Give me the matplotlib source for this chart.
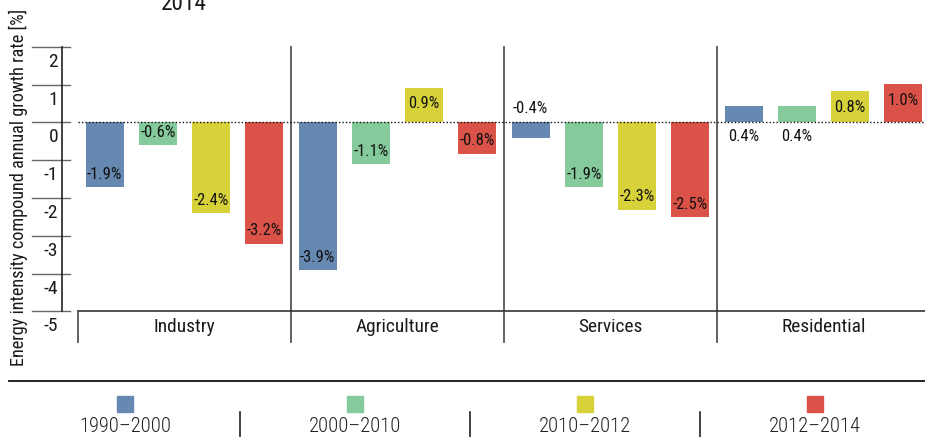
import matplotlib
matplotlib.use("Agg")
import matplotlib.pyplot as plt
from matplotlib import font_manager
from matplotlib.patches import Rectangle
from matplotlib.transforms import offset_copy

# ---------------- data ----------------
categories = ["Industry", "Agriculture", "Services", "Residential"]
periods = ["1990\u20132000", "2000\u20132010", "2010\u20132012", "2012\u20132014"]
colors = ["#6788b0", "#84ca9a", "#d8d23a", "#db5248"]

# bar heights as drawn (percent)
h_1990_2000 = [-1.72, -3.92, -0.42, 0.42]
h_2000_2010 = [-0.61, -1.11, -1.72, 0.42]
h_2010_2012 = [-2.41, 0.92, -2.31, 0.82]
h_2012_2014 = [-3.21, -0.83, -2.51, 1.01]

# printed labels
l_1990_2000 = ["-1.9%", "-3.9%", "-0.4%", "0.4%"]
l_2000_2010 = ["-0.6%", "-1.1%", "-1.9%", "0.4%"]
l_2010_2012 = ["-2.4%", "0.9%", "-2.3%", "0.8%"]
l_2012_2014 = ["-3.2%", "-0.8%", "-2.5%", "1.0%"]

heights = [h_1990_2000, h_2000_2010, h_2010_2012, h_2012_2014]
labels = [l_1990_2000, l_2000_2010, l_2010_2012, l_2012_2014]

yticks = [2, 1, 0, -1, -2, -3, -4, -5]
ylabel = "Energy intensity compound annual growth rate [%]"
title_tail = "2014"

# ---------------- font choice ----------------
entries = font_manager.fontManager.ttflist
names = {f.name for f in entries}
family = None
stretch = "normal"
for cand in ["Liberation Sans Narrow", "DejaVu Sans Condensed", "Roboto Condensed",
             "Open Sans Condensed", "Noto Sans Condensed", "Arial Narrow"]:
    if cand in names:
        family = cand
        break
if family is None:
    for f in entries:
        st = str(f.stretch).lower()
        if st in ("condensed", "semi-condensed", "extra-condensed") or st in ("75", "87.5", "62.5"):
            if f.name in ("DejaVu Sans", "Noto Sans", "Open Sans", "Roboto", "Liberation Sans"):
                family = f.name
                stretch = "condensed"
                break
if family is None:
    family = "Roboto" if "Roboto" in names else "DejaVu Sans"

plt.rcParams["font.family"] = [family, "DejaVu Sans"]
plt.rcParams["font.stretch"] = stretch

W, H = 925, 437
fig = plt.figure(figsize=(W / 100, H / 100), dpi=100)
renderer = fig.canvas.get_renderer()

def fit(text, target_px, max_size, **kw):
    t = fig.text(0, 0, text, fontsize=max_size, **kw)
    w = t.get_window_extent(renderer).width
    t.remove()
    return min(max_size, max_size * target_px / w)

def fx(px):
    return px / W

def fy(px_from_top):
    return 1 - px_from_top / H

fs_bar = fit("-2.4%", 35, 13)
fs_cat = fit("Industry", 62, 15)
fs_tick = 14
fs_ylab = fit(ylabel, 360, 14)
fs_leg = fit(periods[0], 92, 16, fontweight="light")
fs_title = fit(title_tail, 46, 18)

top_px, bot_px = 46.7, 311.3
ax = fig.add_axes([fx(78), fy(bot_px), fx(930 - 78), (bot_px - top_px) / H])
ax.set_xlim(0, 4)
ax.set_ylim(-5, 2)
ax.axis("off")

bar_w = 0.178
for j, (hs, ls, c) in enumerate(zip(heights, labels, colors)):
    xs = [i + 0.125 + 0.25 * j for i in range(len(categories))]
    ax.bar(xs, hs, width=bar_w, color=c, zorder=2)
    for x, v, lab in zip(xs, hs, ls):
        if abs(v) < 0.5:
            base, dy = 0, (14 if v < 0 else -14)
        else:
            base, dy = v, (13 if v < 0 else -16)
        tr = offset_copy(ax.transData, fig=fig, x=0, y=dy, units="dots")
        ax.text(x, base, lab, transform=tr, ha="center", va="center",
                fontsize=fs_bar, color="#111111", zorder=3, clip_on=False)

# zero dotted line
ax.plot([0, 4], [0, 0], color="#111111", lw=1.0, ls=(0, (1, 1.5)), zorder=3,
        clip_on=False)
# baseline at -5
ax.plot([0, 4], [-5, -5], color="#333333", lw=1.2, clip_on=False)
# category separators
sep_bottom = -5 - 31 / 37.8
for i in [1, 2, 3]:
    ax.plot([i, i], [2, sep_bottom], color="#555555", lw=1.3, clip_on=False, zorder=1)
ax.plot([0, 0], [-5, sep_bottom], color="#555555", lw=1.3, clip_on=False)
# category labels
for i, cat in enumerate(categories):
    tr = offset_copy(ax.transData, fig=fig, x=0, y=-16, units="dots")
    ax.text(i + 0.5, -5, cat, transform=tr, ha="center", va="center",
            fontsize=fs_cat, color="#1a1a1a", clip_on=False)

# ---------------- y axis ----------------
axy = fig.add_axes([fx(32), fy(bot_px), fx(38), (bot_px - top_px) / H])
axy.set_xlim(0, 1)
axy.set_ylim(-5, 2)
axy.axis("off")
for t in yticks:
    axy.plot([0, 1], [t, t], color="#666666", lw=1.0, clip_on=False)
    tr = offset_copy(axy.transData, fig=fig, x=0, y=-15, units="dots")
    axy.text((58 - 32) / 38, t, str(t), transform=tr, ha="right", va="center",
             fontsize=fs_tick, color="#1a1a1a", clip_on=False)
axy.plot([(62 - 32) / 38] * 2, [-5, 2], color="#222222", lw=1.2, clip_on=False)

fig.text(fx(18), fy(187), ylabel, rotation=90, ha="center", va="center",
         fontsize=fs_ylab, color="#1a1a1a")

# title remnant (clipped at the top in the reference)
fig.text(fx(184), fy(10), title_tail, ha="center", va="baseline",
         fontsize=fs_title, color="#1a1a1a")

# ---------------- legend ----------------
lax = fig.add_axes([0, 0, 1, 57 / H])
lax.set_xlim(0, W)
lax.set_ylim(57, 0)
lax.axis("off")
lax.plot([9, W], [0.5, 0.5], color="#111111", lw=1.3, clip_on=False)
for k, (p, c) in enumerate(zip(periods, colors)):
    cx = 125 + 230 * k
    lax.add_patch(Rectangle((cx - 8, 16), 16, 16, color=c))
    lax.text(cx, 47, p, ha="center", va="center", fontsize=fs_leg,
             fontweight="light", color="#222222")
    if k < len(periods) - 1:
        sx = cx + 115
        lax.plot([sx, sx], [31.7, 57], color="#222222", lw=1.2, clip_on=False)

fig.savefig("out.png", dpi=100)
